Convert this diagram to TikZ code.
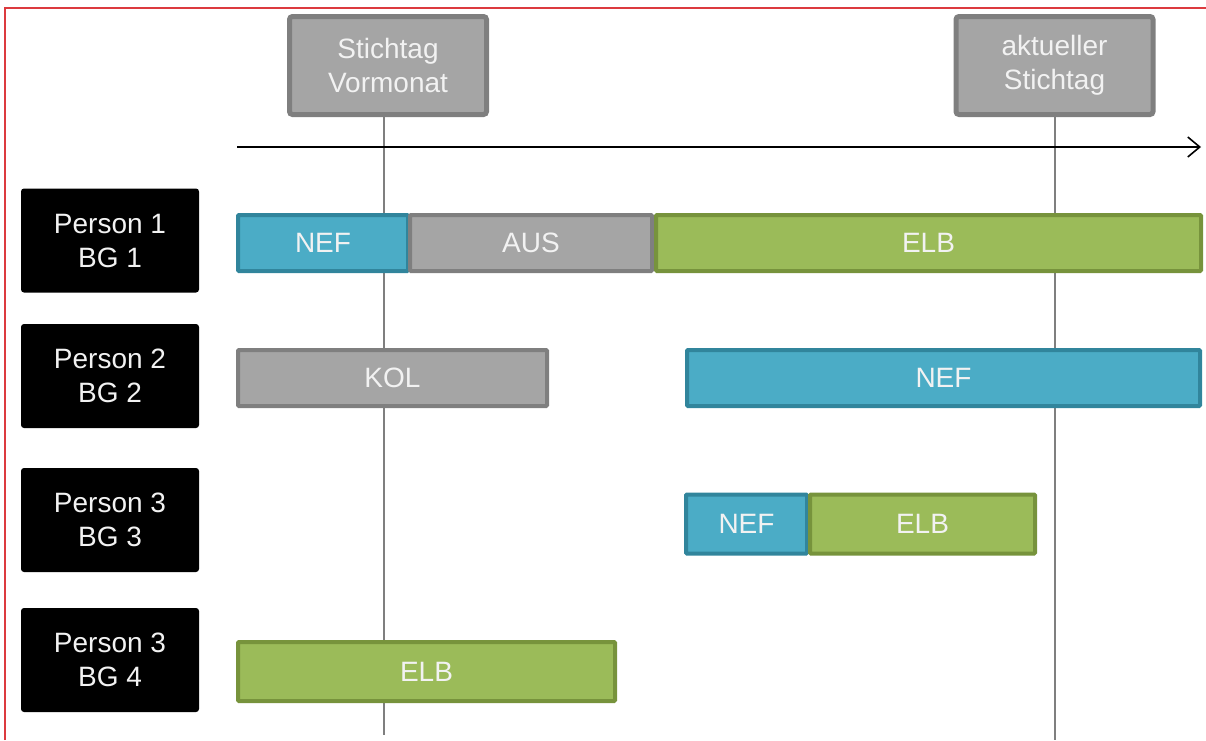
\documentclass[tikz,border=0pt]{standalone}
\usepackage{fontspec}
\setmainfont{Liberation Sans}
\usetikzlibrary{arrows.meta}

\definecolor{frame}{HTML}{DC3A3F}
\definecolor{nefFill}{HTML}{4BACC6}
\definecolor{nefLine}{HTML}{31859C}
\definecolor{grayFill}{HTML}{A5A5A5}
\definecolor{grayLine}{HTML}{7F7F7F}
\definecolor{elbFill}{HTML}{9BBB59}
\definecolor{elbLine}{HTML}{77933C}
\definecolor{labelText}{HTML}{F2F2F2}

\tikzset{
  txt/.style={font=\fontsize{28}{34}\selectfont, text=labelText, align=center, inner sep=0pt},
  datebox/.style={txt, fill=grayFill, draw=grayLine, line width=5pt, rounded corners=3pt,
    minimum width=197pt, minimum height=98pt},
  personbox/.style={txt, fill=black, rounded corners=3pt, minimum width=178pt, minimum height=104pt},
  segment/.style={txt, line width=4pt, rounded corners=1pt, minimum height=56pt},
  nefbar/.style={segment, fill=nefFill, draw=nefLine},
  ausbar/.style={segment, fill=grayFill, draw=grayLine},
  elbbar/.style={segment, fill=elbFill, draw=elbLine},
  guide/.style={draw=grayLine, line width=1.5pt},
  timeaxis/.style={draw=black, line width=1.6pt, -{Straight Barb[length=12pt, width=20pt, line width=1.6pt]}}
}

\begin{document}
\begin{tikzpicture}[x=1pt, y=-1pt]
  \useasboundingbox (0,0) rectangle (1206,740);

  % outer frame (left and top edges)
  \draw[frame, line width=2pt] (5,740) -- (5,8) -- (1206,8);

  % key dates
  \node[datebox] (prev) at (388,65.5) {Stichtag\\Vormonat};
  \node[datebox] (curr) at (1054.5,65.5) {aktueller\\Stichtag};

  % guide lines below the key dates
  \coordinate (prevEnd) at (384,735);
  \coordinate (currEnd) at (1055,740);
  \draw[guide] (prev.south -| prevEnd) -- (prevEnd);
  \draw[guide] (curr.south -| currEnd) -- (currEnd);

  % time axis
  \coordinate (axisStart) at (237,147);
  \coordinate (axisEnd) at (1201,147);
  \draw[timeaxis] (axisStart) -- (axisEnd);

  % persons
  \node[personbox] (p1) at (110,240.5) {Person 1\\BG 1};
  \node[personbox] (p2) at (110,376) {Person 2\\BG 2};
  \node[personbox] (p3) at (110,520) {Person 3\\BG 3};
  \node[personbox] (p4) at (110,660) {Person 3\\BG 4};

  % row 1
  \node[nefbar, minimum width=170pt] (r1a) at (323,243) {NEF};
  \node[ausbar, minimum width=242pt] (r1b) at (531,243) {AUS};
  \node[elbbar, minimum width=545pt] (r1c) at (928.5,243) {ELB};

  % row 2
  \node[ausbar, minimum width=309pt] (r2a) at (392.5,378) {KOL};
  \node[nefbar, minimum width=513pt] (r2b) at (943.5,378) {NEF};

  % row 3
  \node[nefbar, minimum width=121pt, minimum height=59pt] (r3a) at (746.5,524) {NEF};
  \node[elbbar, minimum width=225pt, minimum height=59pt] (r3b) at (922.5,524) {ELB};

  % row 4
  \node[elbbar, minimum width=377pt, minimum height=59pt] (r4a) at (426.5,671.5) {ELB};
\end{tikzpicture}
\end{document}
